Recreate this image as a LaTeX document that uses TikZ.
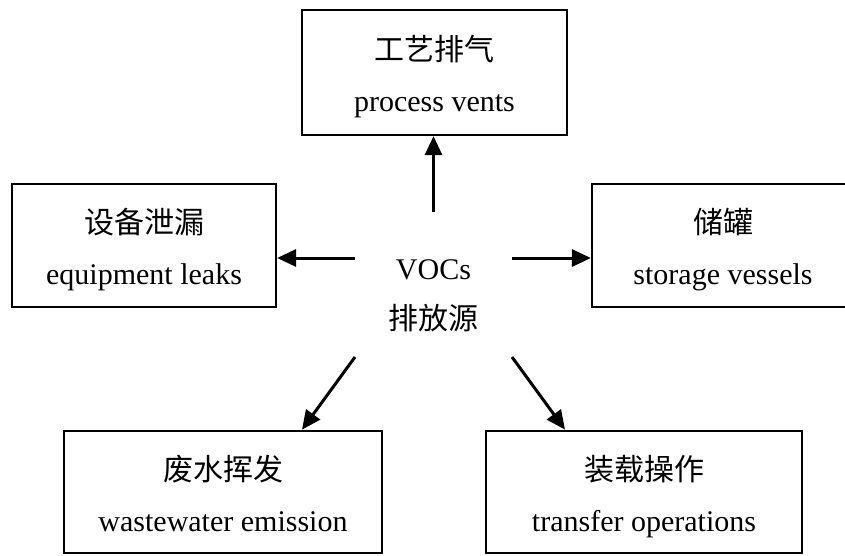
\documentclass[tikz,border=0pt]{standalone}
\usepackage{fontspec}
\setmainfont{Liberation Serif}
\newfontfamily\cjk{Noto Sans CJK SC}
\usetikzlibrary{arrows.meta}

\begin{document}
\begin{tikzpicture}[x=1pt,y=-1pt,
  box/.style={draw,line width=2.2pt,inner sep=0pt,align=center,
    font={\fontsize{30}{51}\selectfont},text height=80pt,text depth=1.6pt},
  hub/.style={inner sep=0pt,outer sep=0pt,minimum width=157pt,minimum height=145pt,
    align=center,font={\fontsize{30}{50}\selectfont},text height=95pt,text depth=4.6pt},
  arr/.style={line width=3pt,-{Triangle[length=19pt,width=17pt]}}]
\useasboundingbox (0,0) rectangle (845,555);
\clip (0,0) rectangle (845,555);
\node[box,minimum width=265pt,minimum height=125pt] (vents) at (434.5,72.5) {{\cjk 工艺排气}\\process vents};
\node[box,minimum width=264pt,minimum height=123pt] (leaks) at (144,245.5) {{\cjk 设备泄漏}\\equipment leaks};
\node[box,minimum width=262pt,minimum height=123pt] (tanks) at (723,245.5) {{\cjk 储罐}\\storage vessels};
\node[box,minimum width=318pt,minimum height=122.5pt] (waste) at (223,492) {{\cjk 废水挥发}\\wastewater emission};
\node[box,minimum width=316pt,minimum height=122.5pt] (load) at (644,492) {{\cjk 装载操作}\\transfer operations};
\node[hub] (src) at (433.5,284.5) {VOCs\\{\cjk 排放源}};
\coordinate (srcw) at ([yshift=26.5pt]src.west);
\coordinate (srce) at ([yshift=26.5pt]src.east);
\draw[arr] (src.north) -- (src.north |- vents.south);
\draw[arr] (srcw) -- (srcw -| leaks.east);
\draw[arr] (srce) -- (srce -| tanks.west);
\draw[arr] (src.south west) -- ([xshift=79pt]waste.north);
\draw[arr] (src.south east) -- ([xshift=-79pt]load.north);
\end{tikzpicture}
\end{document}
